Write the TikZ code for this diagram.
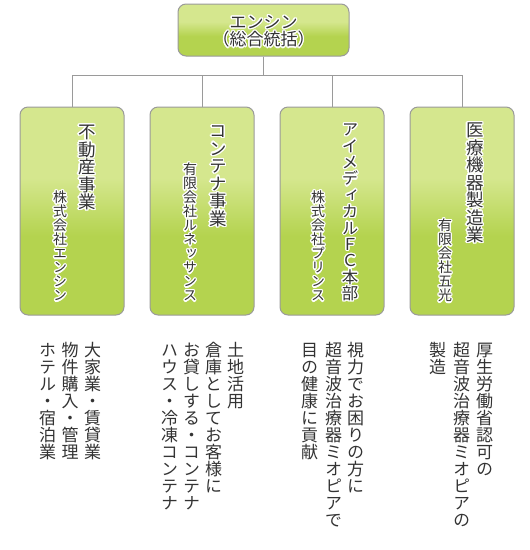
\documentclass[tikz,border=0pt]{standalone}
\usepackage{fontspec}
\newfontfamily\jp{Noto Sans CJK JP}
\newfontfamily\jpv[RawFeature=+vert]{Noto Sans CJK JP}
\usepackage[copies]{contour}
\contourlength{1.3pt}
\contournumber{16}
\usetikzlibrary{calc,positioning}

\definecolor{boxtop}{HTML}{D5E78E}
\definecolor{boxbot}{HTML}{B4D34F}
\definecolor{edgegray}{HTML}{9A9A9A}
\definecolor{ink}{HTML}{333333}

\pgfdeclareverticalshading{unitshade}{100bp}{color(0bp)=(boxbot); color(25bp)=(boxbot);
  color(44bp)=(boxbot); color(58bp)=(boxtop); color(75bp)=(boxtop); color(100bp)=(boxtop)}

% one column of vertical text, one character under the other
\makeatletter
\protected\def\tate#1{\vtop{\offinterlineskip\@tfor\tate@ch:=#1\do{%
  \hbox to 1em{\hss\vrule width0pt height.88em depth.12em\tate@ch\hss}}}}
\makeatother
% white rim round the text in the boxes
\newcommand\rim[1]{\contour{white}{#1}}

\begin{document}
\begin{tikzpicture}[
    x=1pt, y=-1pt,
    unit/.style={rectangle, rounded corners=8pt, draw=edgegray, line width=1pt,
      shade, shading=unitshade, minimum width=104pt, minimum height=208pt, inner sep=0pt},
    head/.style={unit, minimum width=171pt, minimum height=52pt},
    title/.style={anchor=north, inner sep=0pt, text=ink,
      font=\jpv\fontsize{17.5}{18}\selectfont},
    firm/.style={anchor=south, inner sep=0pt, text=ink,
      font=\jpv\fontsize{14}{14}\selectfont},
    note/.style={anchor=north, inner sep=0pt, text=ink,
      font=\jpv\fontsize{17}{17}\selectfont},
    link/.style={draw=edgegray, line width=1pt}
  ]

  \useasboundingbox (0,0) rectangle (530,550);

  % the head office and the four businesses

  \node (engine)     [head] at (263.5,30) {};
  \node (enginename) [text=ink, font=\jp\fontsize{17}{15.5}\selectfont, align=center,
                      inner sep=0pt] at (263.5,32) {\rim{エンシン}\\\rim{（総合統括）}};

  \node (realty)    [unit] at (72,211)  {};
  \node (container) [unit] at (202,211) {};
  \node (medical)   [unit] at (332,211) {};
  \node (device)    [unit] at (462,211) {};

  \draw[link] (engine.south) -- ++(0,19) -| (realty.north);
  \draw[link] (engine.south) -- ++(0,19) -| (container.north);
  \draw[link] (engine.south) -- ++(0,19) -| (medical.north);
  \draw[link] (engine.south) -- ++(0,19) -| (device.north);

  % names inside the boxes

  \node (realtyname)    [title] at (87,123)  {\rim{\tate{不動産事業}}};
  \node (realtyfirm)    [firm]  at (60,304)  {\rim{\tate{株式会社エンシン}}};

  \node (containername) [title] at (218,122) {\rim{\tate{コンテナ事業}}};
  \node (containerfirm) [firm]  at (190,304) {\rim{\tate{有限会社ルネッサンス}}};

  \node (medicalname)   [title, font=\jpv\fontsize{16.4}{17}\selectfont]
                                at (350,121) {\rim{\tate{アイメディカルＦＣ本部}}};
  \node (medicalfirm)   [firm]  at (318,304) {\rim{\tate{株式会社プリンス}}};

  \node (devicename)    [title] at (475,121) {\rim{\tate{医療機器製造業}}};
  \node (devicefirm)    [firm]  at (445,304) {\rim{\tate{有限会社五光}}};

  % descriptions below, read from the right column to the left

  \node (realtynote)    [note] at (70,341)    {\tate{ホテル・宿泊業}\hspace{5.5pt}%
                                                \tate{物件購入・管理}\hspace{5.5pt}%
                                                \tate{大家業・賃貸業}};
  \node (containernote) [note] at (202.5,341) {\tate{ハウス・冷凍コンテナ}\hspace{5pt}%
                                                \tate{お貸しする・コンテナ}\hspace{5pt}%
                                                \tate{倉庫としてお客様に}\hspace{5pt}%
                                                \tate{土地活用}};
  \node (medicalnote)   [note] at (332.5,341) {\tate{目の健康に貢献}\hspace{7pt}%
                                                \tate{超音波治療器ミオピアで}\hspace{5pt}%
                                                \tate{視力でお困りの方に}};
  \node (devicenote)    [note] at (461,341)   {\tate{製造}\hspace{7pt}%
                                                \tate{超音波治療器ミオピアの}\hspace{6pt}%
                                                \tate{厚生労働省認可の}};

\end{tikzpicture}
\end{document}
